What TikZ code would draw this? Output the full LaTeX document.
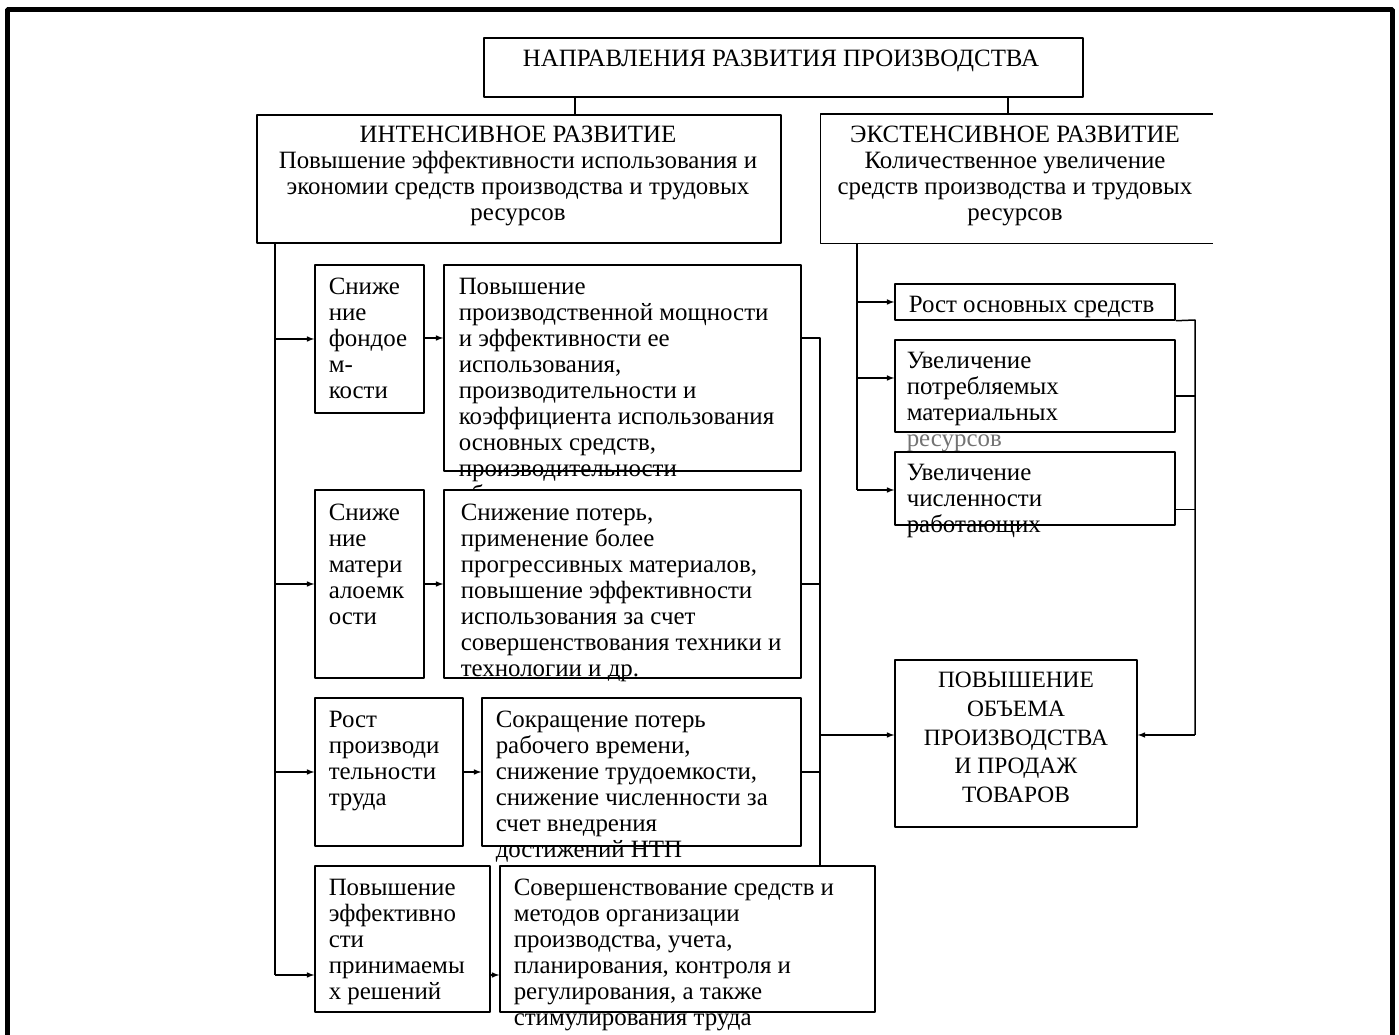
\documentclass[tikz,border=0pt]{standalone}
\usepackage{fontspec}
\setmainfont{Liberation Serif}
\usepackage{tikz}
\usetikzlibrary{positioning}
\newcommand{\boxfont}{\fontsize{25}{26.2}\selectfont}

\begin{document}
\begin{tikzpicture}[>=latex,line join=bevel,line width=1.5bp,
  box/.style={draw,fill=white,inner sep=0pt},
  txt/.style={inner sep=0pt,font=\boxfont,align=left,anchor=north west}]
%%
\useasboundingbox (0bp,0bp) rectangle (1399bp,1035bp);
\draw [line width=5bp] (7bp,0bp) -- (7bp,1025bp) -- (1392bp,1025bp) -- (1392bp,0bp);
%
\node (title) at (783.5bp,967.5bp) [box,minimum width=599bp,minimum height=59bp] {};
  \node (title-txt) at (781bp,986bp) [txt,anchor=north,align=center] {НАПРАВЛЕНИЯ РАЗВИТИЯ ПРОИЗВОДСТВА};
  \node (intensive) at (519bp,856bp) [box,minimum width=524bp,minimum height=128bp] {};
  \node (intensive-txt) at (518bp,910bp) [txt,anchor=north,align=center] {ИНТЕНСИВНОЕ РАЗВИТИЕ\\Повышение эффективности использования и\\экономии средств производства и трудовых\\ресурсов};
  \node (extensive) at (1016.5bp,856bp) [inner sep=0pt,minimum width=391bp,minimum height=128bp] {};
  \draw [black] (extensive.north east) -- (extensive.north west) -- (extensive.south west) -- (extensive.south east);
  \node (extensive-txt) at (1015bp,910bp) [txt,anchor=north,align=center] {ЭКСТЕНСИВНОЕ РАЗВИТИЕ\\Количественное увеличение\\средств производства и трудовых\\ресурсов};
%
\node (fondoemkost) at (369.5bp,696bp) [box,minimum width=109bp,minimum height=148bp] {};
  \node (fondoemkost-txt) at (328bp,758bp) [txt] {Сниже\\ние\\фондое\\м-\\кости};
  \node (moshchnost) at (622.5bp,667bp) [box,minimum width=357bp,minimum height=206bp] {};
  \node (moshchnost-txt) at (458bp,758bp) [txt] {Повышение\\производственной мощности\\и эффективности ее\\использования,\\производительности и\\коэффициента использования\\основных средств,\\производительности\\оборудования и т.п.};
  \node (materialoemkost) at (369.5bp,451bp) [box,minimum width=109bp,minimum height=188bp] {};
  \node (materialoemkost-txt) at (328bp,532bp) [txt] {Сниже\\ние\\матери\\алоемк\\ости};
  \node (poteri) at (622.5bp,451bp) [box,minimum width=357bp,minimum height=188bp] {};
  \node (poteri-txt) at (460bp,532bp) [txt] {Снижение потерь,\\применение более\\прогрессивных материалов,\\повышение эффективности\\использования за счет\\совершенствования техники и\\технологии и др.};
  \node (proizvoditelnost) at (389bp,263bp) [box,minimum width=148bp,minimum height=148bp] {};
  \node (proizvoditelnost-txt) at (328bp,325bp) [txt] {Рост\\производи\\тельности\\труда};
  \node (sokrashchenie) at (641.5bp,263bp) [box,minimum width=319bp,minimum height=148bp] {};
  \node (sokrashchenie-txt) at (495bp,325bp) [txt] {Сокращение потерь\\рабочего времени,\\снижение трудоемкости,\\снижение численности за\\счет внедрения\\достижений НТП};
  \node (resheniya) at (402.5bp,96bp) [box,minimum width=175bp,minimum height=146bp] {};
  \node (resheniya-txt) at (328bp,157bp) [txt] {Повышение\\эффективно\\сти\\принимаемы\\х решений};
  \node (sovershenstvovanie) at (687.5bp,96bp) [box,minimum width=375bp,minimum height=146bp] {};
  \node (sovershenstvovanie-txt) at (513bp,157bp) [txt] {Совершенствование средств и\\методов организации\\производства, учета,\\планирования, контроля и\\регулирования, а также\\стимулирования труда};
%
\node (osnovnye) at (1035bp,733bp) [box,minimum width=280bp,minimum height=36bp] {};
  \node (osnovnye-txt) at (908bp,740bp) [txt] {Рост основных средств};
  \node (materialy) at (1035bp,649bp) [box,minimum width=280bp,minimum height=92bp] {};
  \node (materialy-txt) at (906bp,684bp) [txt] {Увеличение\\потребляемых\\материальных\\\textcolor{black!55}{ресурсов}};
  \node (chislennost) at (1035bp,546.5bp) [box,minimum width=280bp,minimum height=73bp] {};
  \node (chislennost-txt) at (906bp,572bp) [txt] {Увеличение\\численности\\работающих};
  \node (obem) at (1016bp,291.5bp) [box,minimum width=242bp,minimum height=167bp] {};
  \node (obem-txt) at (1016bp,364bp) [txt,anchor=north,align=center,font=\fontsize{23.5}{29}\selectfont] {ПОВЫШЕНИЕ\\ОБЪЕМА\\ПРОИЗВОДСТВА\\И ПРОДАЖ\\ТОВАРОВ};
%
\coordinate (int-in) at (575bp,938bp);
  \coordinate (ext-in) at (1008bp,938bp);
  \coordinate (int-out) at (275bp,792bp);
  \coordinate (int-end) at (275bp,60bp);
  \coordinate (res-top) at (820bp,697bp);
  \coordinate (res-out) at (820bp,300bp);
  \coordinate (ext-out) at (857bp,792bp);
  \coordinate (ext-end) at (857bp,545bp);
  \coordinate (ext-top) at (1195bp,715bp);
  \coordinate (ext-res) at (1195bp,300bp);
  \coordinate (mat-in) at ([yshift=8bp]materialy.west);
  \coordinate (mat-out) at ([yshift=-10bp]materialy.east);
  \coordinate (chis-out) at ([yshift=-21bp]chislennost.east);
  \draw [black] (int-in) -- (int-in |- intensive.north);
  \draw [black] (ext-in) -- (ext-in |- extensive.north);
  \draw [black] (int-out) -- (int-end);
  \draw [black,->] (int-out |- fondoemkost) -- (fondoemkost);
  \draw [black,->] (int-out |- materialoemkost) -- (materialoemkost);
  \draw [black,->] (int-out |- proizvoditelnost) -- (proizvoditelnost);
  \draw [black,->] (int-end) -- (int-end -| resheniya.west);
  \draw [black,->] (fondoemkost.east |- res-top) -- (res-top -| moshchnost.west);
  \draw [black,->] (materialoemkost) -- (poteri);
  \draw [black,->] (proizvoditelnost) -- (sokrashchenie);
  \draw [black,->] (int-end -| resheniya.east) -- (int-end -| sovershenstvovanie.west);
  \draw [black] (moshchnost.east |- res-top) -- (res-top) -- (res-top |- sovershenstvovanie.north);
  \draw [black] (poteri.east) -- (poteri.east -| res-top);
  \draw [black] (sokrashchenie.east) -- (sokrashchenie.east -| res-top);
  \draw [black,->] (res-out) -- (res-out -| obem.west);
  \draw [black] (ext-out) -- (ext-end);
  \draw [black,->] (ext-out |- osnovnye) -- (osnovnye);
  \draw [black,->] (ext-out |- mat-in) -- (mat-in);
  \draw [black,->] (ext-end) -- (ext-end -| chislennost.west);
  \draw [black] (osnovnye.south east) -- (ext-top) -- (ext-res);
  \draw [black] (mat-out) -- (mat-out -| ext-top);
  \draw [black] (chis-out) -- (chis-out -| ext-top);
  \draw [black,->] (ext-res) -- (ext-res -| obem.east);
%
\end{tikzpicture}
\end{document}
